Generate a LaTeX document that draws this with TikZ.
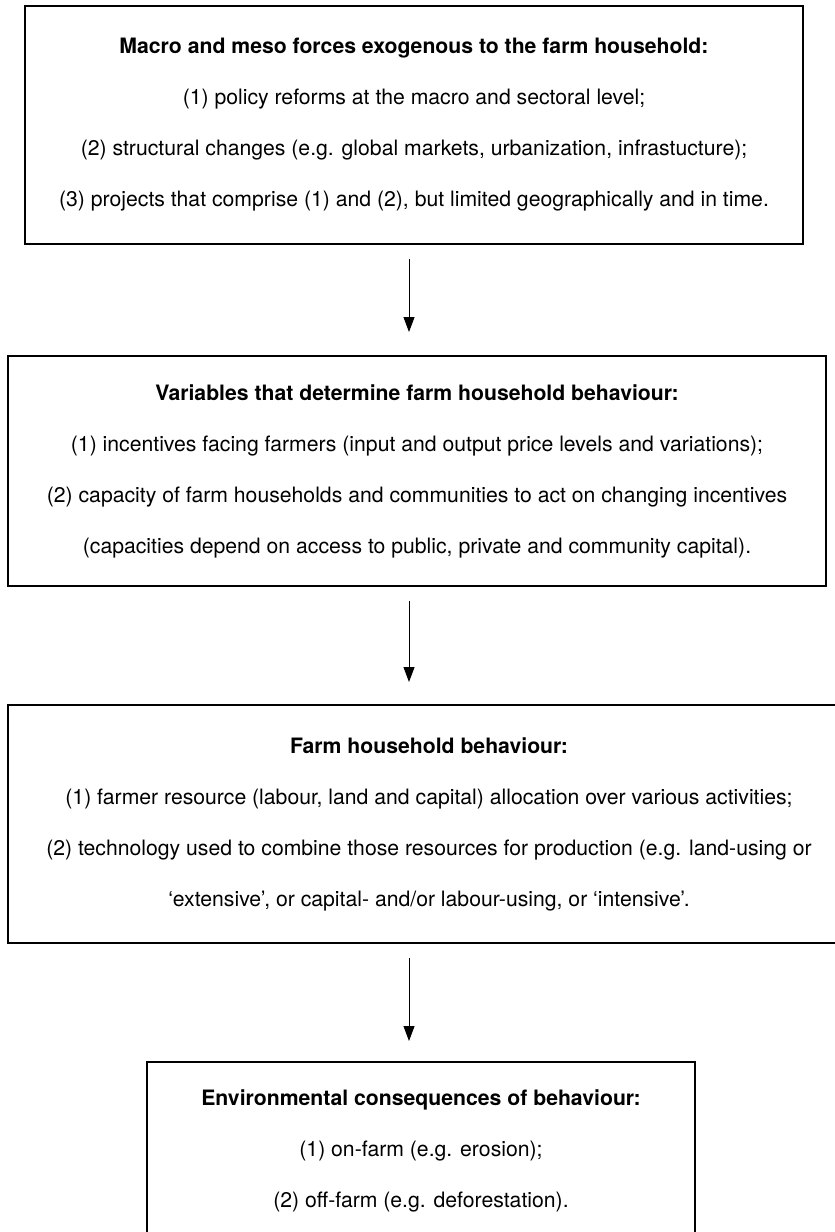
\documentclass[tikz,border=0pt]{standalone}
\usepackage{fontspec}
\setmainfont{TeX Gyre Heros}
\usetikzlibrary{arrows.meta}
\tikzset{
  box/.style={draw, line width=1.1pt, rectangle, inner sep=0pt, outer sep=0pt, align=center,
              font=\fontsize{21.2}{51}\selectfont},
  arr/.style={line width=0.9pt, -{Triangle[width=11pt,length=15pt]}},
}
\begin{document}
\begin{tikzpicture}[x=1pt,y=-1pt]
\useasboundingbox (0,0) rectangle (835,1232);
\begin{scope}
\clip (0,0) rectangle (835,1232);
\node[box, minimum width=778pt, minimum height=238pt] (b1) at (414,125)
  {\textbf{Macro and meso forces exogenous to the farm household:}\\
   (1) policy reforms at the macro and sectoral level;\\
   (2) structural changes (e.g. global markets, urbanization, infrastucture);\\
   (3) projects that comprise (1) and (2), but limited geographically and in time.};
\node[box, minimum width=818pt, minimum height=230pt] (b2) at (417,471)
  {\textbf{Variables that determine farm household behaviour:}\\
   (1) incentives facing farmers (input and output price levels and variations);\\
   (2) capacity of farm households and communities to act on changing incentives\\
   (capacities depend on access to public, private and community capital).};
\node[box, minimum width=842pt, minimum height=238pt] (b3) at (429,824)
  {\textbf{Farm household behaviour:}\\
   (1) farmer resource (labour, land and capital) allocation over various activities;\\
   (2) technology used to combine those resources for production (e.g. land-using or\\
   `extensive', or capital- and/or labour-using, or `intensive'.};
\node[box, minimum width=548pt, minimum height=178pt] (b4) at (421,1151)
  {\textbf{Environmental consequences of behaviour:}\\
   (1) on-farm (e.g. erosion);\\
   (2) off-farm (e.g. deforestation).};
\coordinate (ax) at (409,0);
\draw[arr, shorten <=15pt, shorten >=24pt] (b1.south -| ax) -- (b2.north -| ax);
\draw[arr, shorten <=15pt, shorten >=23pt] (b2.south -| ax) -- (b3.north -| ax);
\draw[arr, shorten <=15pt, shorten >=21pt] (b3.south -| ax) -- (b4.north -| ax);
\end{scope}
\end{tikzpicture}
\end{document}
